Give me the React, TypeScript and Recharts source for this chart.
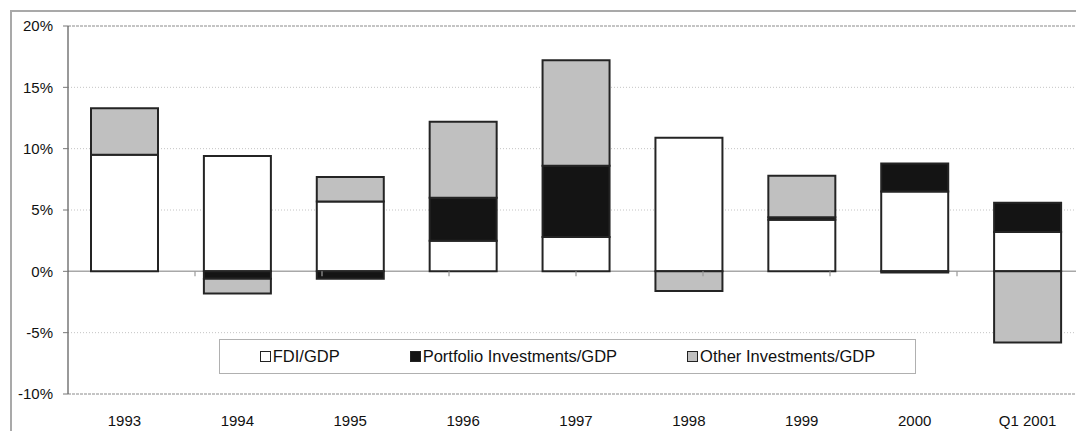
import { BarChart, Bar, XAxis, YAxis, CartesianGrid, ReferenceLine, Legend } from 'recharts'

// capital inflows by type, % of GDP
const categories = ['1993', '1994', '1995', '1996', '1997', '1998', '1999', '2000', 'Q1 2001']
const fdiShare = [9.5, 9.4, 5.7, 2.5, 2.8, 10.9, 4.2, 6.5, 3.2]
const portfolioShare = [0, -0.6, -0.6, 3.5, 5.8, 0, 0.2, 2.3, 2.4]
const otherShare = [3.8, -1.2, 2.0, 6.2, 8.6, -1.6, 3.4, -0.1, -5.8]
const yTicks = [-10, -5, 0, 5, 10, 15, 20]
// category edges on a 0..9 index axis, used for the small marks on the zero line
const categoryEdges = [1, 2, 3, 4, 5, 6, 7, 8]

const series = [
  { key: 'fdi', name: 'FDI/GDP', fill: '#ffffff' },
  { key: 'portfolio', name: 'Portfolio Investments/GDP', fill: '#141414' },
  { key: 'other', name: 'Other Investments/GDP', fill: '#c0c0c0' },
]

const data = categories.map((year, i) => ({
  year,
  fdi: fdiShare[i],
  portfolio: portfolioShare[i],
  other: otherShare[i],
}))

const font = '"Liberation Sans", Arial, sans-serif'

// grid lines sit under the bars; the zero line is solid, the frame lines dashed
function GridLine(props: any) {
  const { x1, x2, y1, y2, index } = props
  const v = yTicks[index]
  let stroke = '#c4c4c4'
  let dash: string | undefined = '1 2'
  let sw = 1
  if (v === 0) {
    stroke = '#a8a8a8'
    dash = undefined
    sw = 1.5
  } else if (v === 20 || v === -10) {
    stroke = '#8a8a8a'
    dash = '3 1'
  }
  return <line x1={x1} x2={x2} y1={y1} y2={y2} stroke={stroke} strokeWidth={sw} strokeDasharray={dash} />
}

function FlowLegend() {
  return (
    <div
      style={{
        display: 'flex',
        justifyContent: 'center',
        alignItems: 'center',
        gap: 70,
        height: '100%',
        fontFamily: font,
        fontSize: 16.5,
        color: '#111',
      }}
    >
      {series.map((s) => (
        <span key={s.key} style={{ display: 'flex', alignItems: 'center' }}>
          <span
            style={{
              width: 11,
              height: 11,
              boxSizing: 'border-box',
              background: s.fill,
              border: '1.5px solid #222',
              marginRight: 2,
            }}
          />
          {s.name}
        </span>
      ))}
    </div>
  )
}

export default function App() {
  return (
    <div
      style={{
        position: 'absolute',
        left: 0,
        top: 0,
        width: 1076,
        height: 431,
        overflow: 'hidden',
        background: '#fff',
        fontFamily: font,
      }}
    >
      <div
        style={{
          position: 'absolute',
          left: 10,
          top: 10,
          width: 1100,
          height: 500,
          border: '2px solid #a9a9a9',
        }}
      />
      <div style={{ position: 'absolute', left: 0, top: 0 }}>
        <BarChart
          width={1090}
          height={431}
          data={data}
          stackOffset="sign"
          margin={{ top: 26, right: 6, bottom: 0, left: 0 }}
        >
          <CartesianGrid vertical={false} horizontal={(p: any) => <GridLine key={p.key} {...p} />} />
          <XAxis
            xAxisId="cat"
            dataKey="year"
            height={37}
            axisLine={false}
            tickLine={false}
            tickSize={0}
            tickMargin={21}
            tick={{ fill: '#111', fontSize: 15 }}
          />
          <XAxis xAxisId="edge" type="number" domain={[0, 9]} hide />
          <YAxis
            width={68}
            domain={[-10, 20]}
            ticks={yTicks}
            tickFormatter={(v) => `${v}%`}
            axisLine={{ stroke: '#555', strokeWidth: 1.2 }}
            tickLine={{ stroke: '#777' }}
            tickSize={5}
            tickMargin={10}
            tick={{ fill: '#111', fontSize: 15 }}
          />
          {categoryEdges.map((e) => (
            <ReferenceLine
              key={e}
              xAxisId="edge"
              segment={[
                { x: e, y: 0 },
                { x: e, y: -0.4 },
              ]}
              stroke="#999"
              strokeWidth={1.2}
            />
          ))}
          {series.map((s) => (
            <Bar
              key={s.key}
              xAxisId="cat"
              dataKey={s.key}
              name={s.name}
              stackId="flows"
              fill={s.fill}
              stroke="#242424"
              strokeWidth={2}
              barSize={67}
              isAnimationActive={false}
            />
          ))}
          <Legend
            layout="horizontal"
            verticalAlign="middle"
            content={() => <FlowLegend />}
            wrapperStyle={{
              left: 219,
              top: 339,
              width: 697,
              height: 35,
              boxSizing: 'border-box',
              border: '1.5px solid #b0b0b0',
              background: '#fff',
            }}
          />
        </BarChart>
      </div>
    </div>
  )
}
